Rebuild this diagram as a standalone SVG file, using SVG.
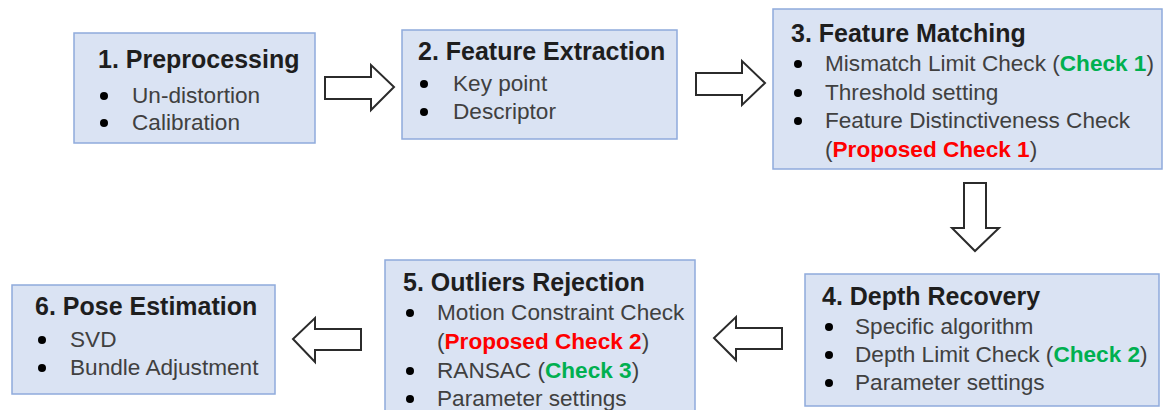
<svg xmlns="http://www.w3.org/2000/svg" width="1166" height="410" viewBox="0 0 1166 410">
  <style>
    .box { fill: #dae3f3; stroke: #8faadc; stroke-width: 1.5; }
    .title { font-family: "Liberation Sans", Arial, sans-serif; font-size: 25px; font-weight: bold; fill: #1e1e1e; }
    .item { font-family: "Liberation Sans", Arial, sans-serif; font-size: 22.6px; fill: #404040; }
    .dot { fill: #000; }
    .green { fill: #00b050; font-weight: bold; }
    .red { fill: #ff0000; font-weight: bold; }
    .arrow { fill: #fff; stroke: #2b2b2b; stroke-width: 2; stroke-linejoin: miter; }
  </style>

  <rect width="1166" height="410" fill="#fff"/>

  <!-- Step 1 -->
  <g id="preprocessing">
    <rect class="box" x="74" y="33" width="241" height="110"/>
    <text class="title" x="98" y="68">1. Preprocessing</text>
    <circle class="dot" cx="104" cy="96" r="4"/>
    <text class="item" x="132" y="103">Un-distortion</text>
    <circle class="dot" cx="104" cy="123" r="4"/>
    <text class="item" x="132" y="130">Calibration</text>
  </g>

  <!-- Step 2 -->
  <g id="feature-extraction">
    <rect class="box" x="402" y="30" width="275" height="109"/>
    <text class="title" x="418" y="60">2. Feature Extraction</text>
    <circle class="dot" cx="424" cy="84" r="4"/>
    <text class="item" x="453" y="91">Key point</text>
    <circle class="dot" cx="424" cy="112" r="4"/>
    <text class="item" x="453" y="119">Descriptor</text>
  </g>

  <!-- Step 3 -->
  <g id="feature-matching">
    <rect class="box" x="773" y="9" width="389" height="160"/>
    <text class="title" x="791" y="42">3. Feature Matching</text>
    <circle class="dot" cx="798" cy="64" r="4"/>
    <text class="item" x="825" y="71">Mismatch Limit Check (<tspan class="green">Check 1</tspan>)</text>
    <circle class="dot" cx="798" cy="93" r="4"/>
    <text class="item" x="825" y="100">Threshold setting</text>
    <circle class="dot" cx="798" cy="121" r="4"/>
    <text class="item" x="825" y="128">Feature Distinctiveness Check</text>
    <text class="item" x="825" y="157">(<tspan class="red">Proposed Check 1</tspan>)</text>
  </g>

  <!-- Step 4 -->
  <g id="depth-recovery">
    <rect class="box" x="805" y="274" width="354" height="132"/>
    <text class="title" x="822" y="305">4. Depth Recovery</text>
    <circle class="dot" cx="829" cy="327" r="4"/>
    <text class="item" x="855" y="334">Specific algorithm</text>
    <circle class="dot" cx="829" cy="355" r="4"/>
    <text class="item" x="855" y="362">Depth Limit Check (<tspan class="green">Check 2</tspan>)</text>
    <circle class="dot" cx="829" cy="383" r="4"/>
    <text class="item" x="855" y="390">Parameter settings</text>
  </g>

  <!-- Step 5 -->
  <g id="outliers-rejection">
    <rect class="box" x="385" y="260" width="310" height="160"/>
    <text class="title" x="403" y="291">5. Outliers Rejection</text>
    <circle class="dot" cx="410" cy="313" r="4"/>
    <text class="item" x="437" y="320">Motion Constraint Check</text>
    <text class="item" x="437" y="349">(<tspan class="red">Proposed Check 2</tspan>)</text>
    <circle class="dot" cx="410" cy="371" r="4"/>
    <text class="item" x="437" y="378">RANSAC (<tspan class="green">Check 3</tspan>)</text>
    <circle class="dot" cx="410" cy="399" r="4"/>
    <text class="item" x="437" y="406">Parameter settings</text>
  </g>

  <!-- Step 6 -->
  <g id="pose-estimation">
    <rect class="box" x="12" y="285" width="263" height="109"/>
    <text class="title" x="35" y="315">6. Pose Estimation</text>
    <circle class="dot" cx="42" cy="340" r="4"/>
    <text class="item" x="70" y="347">SVD</text>
    <circle class="dot" cx="42" cy="368" r="4"/>
    <text class="item" x="70" y="375">Bundle Adjustment</text>
  </g>

  <!-- Block arrows between steps -->
  <g id="connectors">
    <polygon class="arrow" points="325,77 371,77 371,65 394,87 371,110 371,99 325,99"/>
    <polygon class="arrow" points="696,73 742,73 742,61 765,83 742,105 742,95 696,95"/>
    <polygon class="arrow" points="964,183 986,183 986,228 999,228 975,251 952,228 964,228"/>
    <polygon class="arrow" points="782,328 736,328 736,317 714,338 736,360 736,349 782,349"/>
    <polygon class="arrow" points="361,329 315,329 315,318 293,339 315,362 315,350 361,350"/>
  </g>
</svg>
